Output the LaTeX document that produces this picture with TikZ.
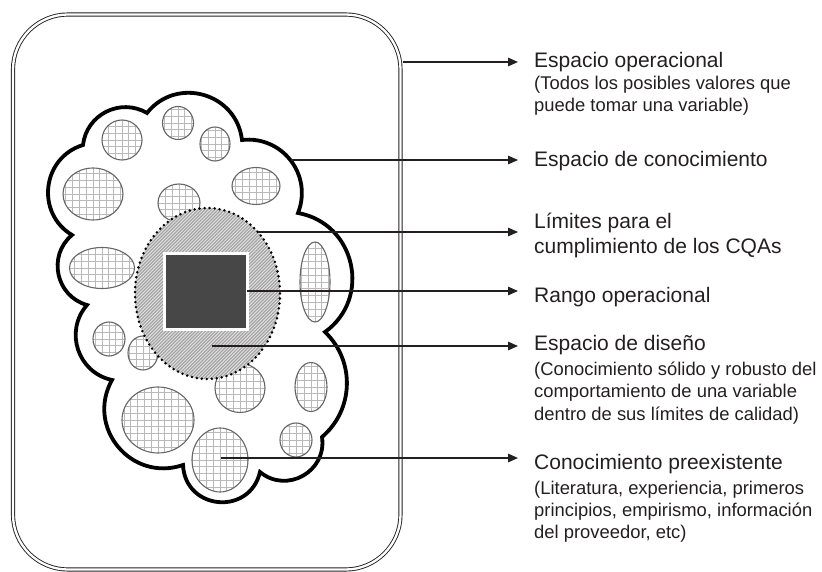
\documentclass[tikz,border=0pt]{standalone}
\usepackage{fontspec}
\setmainfont{Liberation Sans}
\usetikzlibrary{arrows.meta}
\definecolor{ink}{HTML}{231F20}
\definecolor{darksq}{HTML}{474747}
\tikzset{
  outerbox/.style={draw=ink, line width=0.9pt, double=white, double distance=2.3pt, rounded corners=55pt},
  cloudline/.style={draw=black, fill=white, line width=3.8pt, line join=miter, miter limit=4},
  gridline/.style={draw=gray!55, line width=0.9pt},
  ellline/.style={draw=black!60, line width=1.1pt},
  hatchline/.style={draw=gray!70, line width=1.2pt},
  dotline/.style={draw=black, line width=2.8pt, line cap=round, dash pattern=on 0pt off 5pt},
  conn/.style={draw=ink, line width=1.4pt, -{Triangle[length=10pt,width=8.5pt]}, shorten >=16pt},
  ttl/.style={inner sep=0pt, text=ink, font=\fontsize{21}{25.5}\selectfont, anchor=base west},
  subt/.style={inner sep=0pt, text=ink, font=\fontsize{18.4}{22.3}\selectfont, anchor=base west}
}
\newcommand\gridell[4]{%
  \begin{scope}
    \clip (#1,#2) ellipse [x radius=#3, y radius=#4];
    \fill[white] (#1,#2) ellipse [x radius=#3, y radius=#4];
    \foreach \k in {-7,...,7} {
      \draw[gridline] (#1+\k*6.8, #2-#4-2) -- (#1+\k*6.8, #2+#4+2);
      \draw[gridline] (#1-#3-2, #2+\k*6.8) -- (#1+#3+2, #2+\k*6.8);
    }
  \end{scope}
  \draw[ellline] (#1,#2) ellipse [x radius=#3, y radius=#4];}
\begin{document}
\begin{tikzpicture}[x=1pt,y=-1pt]
\useasboundingbox (0,0) rectangle (822,572);
% operational space (outer box)
\draw[outerbox] (13,14.5) rectangle (400.5,569.5);
% knowledge space (cloud of arcs)
\draw[cloudline] (147,113)
  to[bend left=67.5, looseness=1.23] (242,140)
  to[bend left=59,   looseness=1.13] (298,213)
  to[bend left=67,   looseness=1.22] (325,332)
  to[bend left=48,   looseness=1.02] (322,437)
  to[bend left=69,   looseness=1.25] (260,472)
  to[bend left=82,   looseness=1.5]  (183,465)
  to[bend left=69,   looseness=1.26] (112,380)
  to[bend left=59.5, looseness=1.13] (87,305)
  to[bend left=62,   looseness=1.16] (72,235)
  to[bend left=66,   looseness=1.21] (83,145)
  to[bend left=57,   looseness=1.1]  (147,113) -- cycle;
% pre-existing knowledge (gridded ellipses)
\gridell{122}{140}{20}{20}
\gridell{178}{123}{15.5}{16.5}
\gridell{215}{144}{15}{17}
\gridell{93}{194}{30}{26}
\gridell{179}{203}{21}{19}
\gridell{256}{186}{24}{18.5}
\gridell{102}{268}{32.5}{20.5}
\gridell{315}{282}{15}{40}
\gridell{109}{339}{16}{17}
\gridell{143}{353}{15}{17}
\gridell{240}{388}{25}{24.5}
\gridell{311}{387}{16}{24.5}
\gridell{158}{420}{36}{33}
\gridell{220}{460}{28}{32}
\gridell{296}{440}{16}{17}
% design space (hatched ellipse)
\begin{scope}
  \clip (207.5,293.5) ellipse [x radius=72.5, y radius=85.5];
  \fill[gray!22] (130,200) rectangle (290,390);
  \foreach \c in {-60,-56.7,...,292} \draw[hatchline] (\c,392) -- (\c+194,198);
\end{scope}
\draw[dotline] (207.5,293.5) ellipse [x radius=72.5, y radius=85.5];
% operational range (dark square)
\fill[white] (163,252) rectangle (249,331);
\fill[darksq] (166,255) rectangle (246,328);
% connector start points
\coordinate (s1) at (402.5,62);
\coordinate (s2) at (291,160);
\coordinate (s3) at (258,232);
\coordinate (s4) at (247,291);
\coordinate (s5) at (212,346);
\coordinate (s6) at (221,458);
% labels
\node[ttl] (t1) at (534,67.5) {Espacio operacional};
\node[subt] (u1) at (534,89.5) {\vtop{\hbox{(Todos los posibles valores que}\hbox{puede tomar una variable)}}};
\node[ttl] (t2) at (534,166.5) {Espacio de conocimiento};
\node[ttl] (t3) at (534,228.5) {\vtop{\hbox{Límites para el}\hbox{cumplimiento de los CQAs}}};
\node[ttl] (t4) at (534,302) {Rango operacional};
\node[ttl] (t5) at (534,350) {Espacio de diseño};
\node[subt] (u5) at (534,375.5) {\vtop{\hbox{(Conocimiento sólido y robusto del}\hbox{comportamiento de una variable}\hbox{dentro de sus límites de calidad)}}};
\node[ttl] (t6) at (534,469) {Conocimiento preexistente};
\node[subt] (u6) at (534,494) {\vtop{\hbox{(Literatura, experiencia, primeros}\hbox{principios, empirismo, información}\hbox{del proveedor, etc)}}};
% connectors
\draw[conn] (s1) -- (s1 -| t1.west);
\draw[conn] (s2) -- (s2 -| t2.west);
\draw[conn] (s3) -- (s3 -| t3.west);
\draw[conn] (s4) -- (s4 -| t4.west);
\draw[conn] (s5) -- (s5 -| t5.west);
\draw[conn] (s6) -- (s6 -| t6.west);
\end{tikzpicture}
\end{document}
